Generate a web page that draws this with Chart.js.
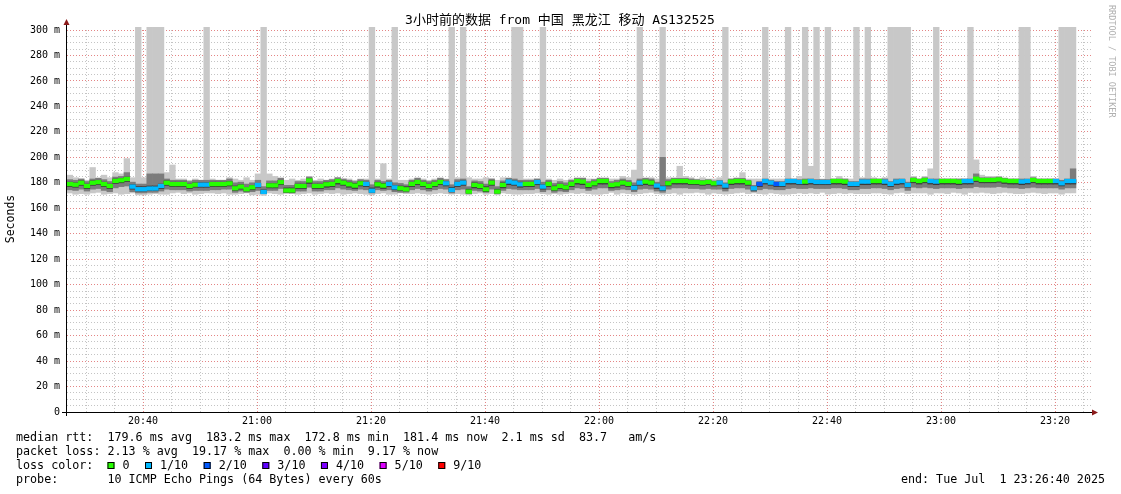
<!DOCTYPE html>
<html>
<head>
<meta charset="utf-8">
<script src="https://cdn.jsdelivr.net/npm/chart.js@4/dist/chart.umd.min.js"></script>
<style>
  html, body { margin: 0; padding: 0; background: #fff; }
  canvas { display: block; }
</style>
</head>
<body>
<canvas id="smoke" width="1121" height="494"></canvas>
<script>
// one sample per minute, first sample starts 20:26:40 (minutes since 20:00)
const startMinute = 26 + 40 / 60;
const spanMinutes = 180;

// median rtt (ms)
const median = [
  179,178.5,180,177.5,180,180.5,179,177.5,181.5,182,
  183,177,175,175,175.5,175.5,177.5,180,179,179,
  179,177.5,178.5,178.5,178.5,179,179,179,179.5,175.7,
  177,175,176.5,178.3,172.8,178,178,180.5,174,174,
  177.5,177.5,181.8,177.5,177.5,178.8,179.1,181.4,180.1,178.8,
  177.8,179.6,179.1,173.8,178.8,177.8,179.1,176.4,175.7,174.9,
  179.1,180.6,179.1,177.5,179.1,180.6,179.6,174.4,179.1,180.1,
  173.1,178.3,177.5,174.9,180.1,173.1,178.3,180.9,180.1,178.8,
  179.1,179.1,180.6,177,179.1,175.7,177.5,176.4,179.1,181.4,
  180.9,178.3,179.6,181.4,181.4,178.3,178.8,180.1,179.1,176.1,
  180.1,180.9,180.1,177.8,175.7,179.6,181.4,181.4,181.4,180.6,
  180.6,180.1,180.6,179.6,180.1,177.8,180.9,181.4,181.4,180.1,
  175.7,179.1,181.4,180.1,179.1,179.1,181.4,181.4,180.6,180.9,
  181.4,180.6,180.6,180.6,181.4,181.4,180.9,179.1,179.1,180.9,
  180.9,181.4,181.4,180.9,179.1,180.9,181.4,178.3,182.2,181.4,
  182.2,181.4,180.9,181.4,181.4,181.4,180.9,181.4,181.4,183.2,
  182.2,182.2,182.2,182.6,181.8,181.4,181.4,180.9,181.4,182.2,
  181.4,181.4,181.4,181.4,179.6,181.4,181.4
];

// lost pings out of 10 per minute
const lost = [
  0,0,0,0,0,0,0,0,0,0,
  0,1,1,1,1,1,1,0,0,0,
  0,0,0,1,1,0,0,0,0,0,
  0,0,0,1,1,0,0,0,0,0,
  0,0,0,0,0,0,0,0,0,0,
  0,0,1,1,0,0,1,1,0,0,
  0,0,0,0,0,0,1,1,1,1,
  0,0,0,0,0,0,0,1,1,1,
  0,0,1,1,0,0,0,0,0,0,
  0,0,0,0,0,0,0,0,0,1,
  1,0,0,1,1,0,0,0,0,0,
  0,0,0,0,1,1,0,0,0,0,
  1,2,1,1,2,1,1,1,1,0,
  1,1,1,1,0,0,0,1,1,1,
  1,0,0,1,1,1,1,1,0,0,
  0,1,1,0,0,0,0,1,1,0,
  0,0,0,0,0,0,0,1,1,0,
  0,0,0,1,1,1,1
];

// smoke: fastest / slowest ping
const pingMin = [
  172,171,171.5,171,172,172.5,171,171.5,172,171,
  171.5,172,170.5,170.5,171,171.5,171,171,172,172.5,
  171.5,172,171,171.5,172,172,171.5,172,171,171,
  171.5,172,170.5,171,170,172,171.5,171,172,171.5,
  171,171.5,172,171,171.5,172,171.5,172,171,171.5,
  172,171.5,171,170.5,171.5,172,171,171,172,171.5,
  171.5,172,171.5,171,171.5,172,171.5,171,171.5,171,
  170.5,171.5,172,171,171.5,170.5,172,171.5,171,171,
  171.5,171.5,172,171.5,171,171.5,171,171.5,172,171.5,
  172,171.5,171,171,171.5,172.5,171,172,171.5,171,
  171.5,172,172.5,171.5,171,171.5,172,171,172,172,
  172.5,172,171,172,171.5,171,171.5,172,172.5,171.5,
  172,171.5,171,172,171.5,171,171,171.5,172,171.5,
  172,171.5,172.5,171,171.5,172,171.5,172,171.5,171.5,
  171.5,172,172,171.5,171,172,172.5,171.5,172,172,
  172,171,172,172,171.5,172.5,172,171,172.5,172,
  172.5,172,171.5,172,172.5,172,171.5,171.5,172,172.5,
  172,171.5,172,172,171,172,172
];
const pingMax = [
  186,184,183,182,192,184,186,184,188,187,
  199,184,302,184,302,302,302,188,194,183,
  183,182,183,182,302,183,182,182,184,183,
  182,184,182,187,302,187,185,184,182,183,
  182,183,185,182,183,182,183,184,183,183,
  182,183,183,302,183,195,183,302,182,182,
  183,184,183,182,183,184,183,302,184,302,
  184,183,183,184,183,182,184,184,302,302,
  183,183,183,302,183,182,183,182,183,184,
  184,183,183,184,184,183,183,185,184,190,
  302,184,184,183,302,184,184,193,185,184,
  183,184,183,183,184,302,183,184,188,183,
  183,183,302,183,183,183,302,183,185,302,
  193,302,183,302,183,185,183,183,302,184,
  302,184,183,184,302,302,302,302,185,183,
  185,191,302,183,183,183,183,183,302,198,
  186,185,185,185,184,183,183,302,302,185,
  183,183,183,183,302,302,302
];
// smoke: middle pings
const midLow = [
  174.5,174,175,173.5,175,175.5,174,173,176,177,
  177.5,173,172,172,172.5,172.5,173.5,175,174.5,174.5,
  174.5,173.5,174,174,174,174.5,174.5,175,175,172.5,
  173.5,172.5,173,174,171.5,174,174,175.5,172,172,
  173.5,173.5,176.5,173.5,173.5,174.5,174.5,176,175,174.5,
  174,175,174.5,172,174.5,174,174.5,173,172.5,172.5,
  174.5,175.5,174.5,173.5,174.5,175.5,175,172,174.5,175,
  171.5,174,173.5,172.5,175,171.5,174,175.5,175,174.5,
  174.5,174.5,175.5,173,174.5,172.5,173.5,173,174.5,176,
  175.5,174,175,176,176,174,174.5,175,174.5,173,
  175,175.5,175,173.5,172.5,175,176,176,176,175.5,
  175.5,175,175.5,175,175,173.5,175.5,176,176,175,
  173,174.5,175.5,175,174.5,174.5,175.5,176,175.5,175.5,
  176,175.5,175.5,175.5,176,176,175.5,174.5,174.5,175.5,
  175.5,176,176,175.5,174.5,175.5,176,174,176.5,176,
  176.5,176,175.5,176,176,176,175.5,176,176,177,
  176.5,176.5,176.5,177,176.5,176,176,175.5,176,176.5,
  176,176,176,176,175,176,176
];
const midHigh = [
  182.5,182,183,181,183,183.5,182.5,181,184.5,185,
  188,180.5,179,179,187,187,187,183,182,182,
  182,181,182,182,182,182,182,182,183,180,
  180.5,179,180,182,177,181.5,181.5,183.5,178,178,
  181,181,184.5,181,181,182,182.5,184,183,182,
  181,182.5,182,178.5,182,181,182,180,179.5,178.5,
  182,183.5,182,181,182,183.5,182.5,178.5,182.5,183,
  177,181.5,181,179,183,177,181.5,183.5,183,182,
  182,182,183,180.5,182,179.5,181,180,182,183.5,
  183.5,181,182.5,183.5,183.5,181,182,183,182,180,
  183,183.5,183,180.5,200,182.5,183.5,183.5,183.5,183,
  182.5,182,182.5,181.5,182,180,183,183.5,183.5,182,
  178,181,183,182,181,181,183,183,182.5,183,
  183,182.5,182.5,182.5,183,183,183,181,181,183,
  183,183,183,183,181,183,183,180.5,184,183,
  184,183,183,183,183,183,183,183,183,187,
  184,184,184,184.5,183.5,183,183,183,183,184,
  183,183,183,183,182,183,191
];
// smoke: pings closest to the median
const coreLow = [
  177,176.5,178,175.5,178,178.5,177,175.5,179.5,180,
  181,175,173.5,173.5,174,174,175.5,178,177,177,
  177,175.5,176.5,176.5,176.5,177,177,177,177.5,174,
  175,173.5,174.5,176.5,171.8,176,176,178.5,172.5,172.5,
  175.5,175.5,179.5,175.5,175.5,176.5,177,179,178,176.5,
  175.5,177.5,177,172.5,176.5,175.5,177,174.5,174,173.5,
  177,178.5,177,175.5,177,178.5,177.5,173,177,178,
  172,176,175.5,173,178,172,176,178.5,178,176.5,
  177,177,178.5,175,177,174,175.5,174.5,177,179,
  178.5,176,177.5,179,179,176,176.5,178,177,174.5,
  178,178.5,178,175.5,174,177.5,179,179,179,178.5,
  178.5,178,178.5,177.5,178,175.5,178.5,179,179,178,
  174,177,179,178,177,177,179,179,178.5,178.5,
  179,178.5,178.5,178.5,179,179,178.5,177,177,178.5,
  178.5,179,179,178.5,177,178.5,179,176.5,180,179,
  180,179,178.5,179,179,179,178.5,179,179,181,
  180,180,180,180.5,179.5,179,179,178.5,179,180,
  179,179,179,179,177.5,179,179
];
const coreHigh = [
  180.5,180,181.5,179,181.5,182,180.5,179,183,183.5,
  184.5,178.5,177,177,177.5,177.5,179,181.5,180.5,180.5,
  180.5,179,180,180,180,180.5,180.5,180.5,181,177.5,
  178.5,176.5,178,179.5,174.5,179.5,179.5,182,176,176,
  179,179,183,179,179,180.5,180.5,182.5,181.5,180.5,
  179.5,181,180.5,176,180.5,179.5,180.5,178,177.5,177,
  180.5,182,180.5,179,180.5,182,181,176.5,180.5,181.5,
  175,180,179,177,181.5,175,180,182,181.5,180.5,
  180.5,180.5,182,178.5,180.5,177.5,179,178,180.5,182.5,
  182,179.5,181,182.5,182.5,179.5,180,181.5,180.5,178,
  181.5,182,181.5,179,177.5,181,182.5,182.5,182.5,181.5,
  181.5,181,181.5,180.5,181,179,182,182.5,182.5,181,
  177,180,182.3,181,180,180,182.3,182.3,181.5,181.8,
  182.3,181.5,181.5,181.5,182.3,182.3,181.8,180,180,181.8,
  181.8,182.3,182.3,181.8,180,181.8,182.3,179.3,183,182.3,
  183,182.3,181.8,182.3,182.3,182.3,181.8,182.3,182.3,184,
  183,183,183,183.4,182.6,182.3,182.3,181.8,182.3,183,
  182.3,182.3,182.3,182.3,180.5,182.3,182.3
];

const lossLabels = ['0', '1/10', '2/10', '3/10', '4/10', '5/10', '9/10'];
const lossColors = ['#26ff00', '#00b8ff', '#0059ff', '#5e00ff', '#7e00ff', '#dd00ff', '#ff0000'];

const xTickLabels = ['20:40', '21:00', '21:20', '21:40', '22:00', '22:20', '22:40', '23:00', '23:20'];
const xTickMinutes = [40, 60, 80, 100, 120, 140, 160, 180, 200];

const titleText = '3小时前的数据 from 中国 黑龙江 移动 AS132525';
const legendLines = [
  'median rtt:  179.6 ms avg  183.2 ms max  172.8 ms min  181.4 ms now  2.1 ms sd  83.7   am/s',
  'packet loss: 2.13 % avg  19.17 % max  0.00 % min  9.17 % now',
  'loss color:  ',
  'probe:       10 ICMP Echo Pings (64 Bytes) every 60s'
];
const endText = 'end: Tue Jul  1 23:26:40 2025';

const mono = '"DejaVu Sans Mono", "Noto Sans CJK SC", monospace';
const majorGrid = '#e48585';
const minorGrid = '#c4c4c4';

const at = (i) => startMinute + i + 0.5;
const band = (lo, hi) => lo.map((v, i) => ({ x: at(i), y: [v, hi[i]] }));

const barBase = {
  grouped: false,
  categoryPercentage: 1,
  barPercentage: 1,
  borderWidth: 0
};

const decor = {
  id: 'decor',
  beforeDraw(chart) {
    const c = chart.ctx;
    c.save();
    c.fillStyle = '#fff';
    c.fillRect(0, 0, chart.width, chart.height);
    c.restore();
  },
  afterDraw(chart) {
    const c = chart.ctx;
    const a = chart.chartArea;
    c.save();

    // axes with arrows
    c.strokeStyle = '#000';
    c.lineWidth = 1;
    c.beginPath();
    c.moveTo(a.left - 5, a.bottom + 0.5);
    c.lineTo(a.right + 1, a.bottom + 0.5);
    c.moveTo(a.left - 0.5, a.bottom + 4);
    c.lineTo(a.left - 0.5, a.top - 6);
    c.stroke();
    c.fillStyle = '#8b1a1a';
    c.beginPath();
    c.moveTo(a.left - 0.5, a.top - 11);
    c.lineTo(a.left - 3.5, a.top - 5);
    c.lineTo(a.left + 2.5, a.top - 5);
    c.closePath();
    c.fill();
    c.beginPath();
    c.moveTo(a.right + 5, a.bottom + 0.5);
    c.lineTo(a.right - 1, a.bottom - 2.5);
    c.lineTo(a.right - 1, a.bottom + 3.5);
    c.closePath();
    c.fill();

    // title
    c.fillStyle = '#000';
    c.font = '13px ' + mono;
    c.textAlign = 'center';
    c.textBaseline = 'middle';
    c.fillText(titleText, 560, 21);

    // y axis title
    c.save();
    c.translate(11, 219);
    c.rotate(-Math.PI / 2);
    c.font = '11.5px ' + mono;
    c.fillText('Seconds', 0, 0);
    c.restore();

    // rrdtool watermark
    c.save();
    c.translate(1111, 5);
    c.rotate(Math.PI / 2);
    c.textAlign = 'left';
    c.fillStyle = '#b0b0b0';
    c.font = '8.5px ' + mono;
    c.fillText('RRDTOOL / TOBI OETIKER', 0, 0);
    c.restore();

    // legend block
    c.font = '11.7px ' + mono;
    c.textAlign = 'left';
    c.fillStyle = '#000';
    const rowY = [438, 452, 466, 480];
    legendLines.forEach((t, i) => c.fillText(t, 16, rowY[i]));
    let x = 16 + c.measureText(legendLines[2]).width;
    lossLabels.forEach((lab, i) => {
      c.fillStyle = lossColors[i];
      c.fillRect(x, rowY[2] - 4, 7, 7);
      c.strokeStyle = '#000';
      c.strokeRect(x + 0.5, rowY[2] - 3.5, 6, 6);
      c.fillStyle = '#000';
      c.fillText(lab, x + 15, rowY[2]);
      x += 15 + c.measureText(lab).width + 15.5;
    });
    c.textAlign = 'right';
    c.fillText(endText, 1105, rowY[3]);

    c.restore();
  }
};

new Chart(document.getElementById('smoke').getContext('2d'), {
  type: 'bar',
  data: {
    datasets: [
      Object.assign({}, barBase, {
        label: 'median',
        data: median.map((v, i) => ({ x: at(i), y: [v - 1.4, v + 1.4] })),
        backgroundColor: lost.map(n => lossColors[n])
      }),
      Object.assign({}, barBase, {
        label: 'core',
        data: band(coreLow, coreHigh),
        backgroundColor: '#3a3a3a'
      }),
      Object.assign({}, barBase, {
        label: 'mid',
        data: band(midLow, midHigh),
        backgroundColor: '#7c7c7c'
      }),
      Object.assign({}, barBase, {
        label: 'range',
        data: band(pingMin, pingMax),
        backgroundColor: '#c8c8c8',
        clip: { left: 0, top: 4, right: 0, bottom: 0 }
      })
    ]
  },
  options: {
    responsive: false,
    animation: false,
    devicePixelRatio: 1,
    layout: { padding: { left: 0, right: 28, top: 30, bottom: 62 } },
    plugins: {
      legend: { display: false },
      tooltip: { enabled: false },
      title: { display: false }
    },
    scales: {
      x: {
        type: 'linear',
        min: startMinute,
        max: startMinute + spanMinutes,
        offset: false,
        afterBuildTicks(axis) {
          const ticks = [];
          for (let v = 30; v < startMinute + spanMinutes; v += 5) ticks.push({ value: v });
          axis.ticks = ticks;
        },
        afterFit(axis) { axis.height = 20; },
        ticks: {
          autoSkip: false,
          maxRotation: 0,
          padding: 3,
          color: '#000',
          font: { family: mono, size: 10 },
          callback: (v) => {
            const k = xTickMinutes.indexOf(v);
            return k >= 0 ? xTickLabels[k] : '';
          }
        },
        grid: {
          offset: false,
          drawTicks: false,
          lineWidth: 1,
          color: (ctx) => ctx.tick && ctx.tick.value % 20 === 0 ? majorGrid : minorGrid
        },
        border: { display: false, dash: [1, 2] }
      },
      y: {
        min: 0,
        max: 300,
        afterFit(axis) { axis.width = 67; },
        ticks: {
          stepSize: 5,
          autoSkip: false,
          padding: 7,
          color: '#000',
          font: { family: mono, size: 10 },
          callback: (v) => v % 20 === 0 ? (v === 0 ? '0' : v + ' m') : ''
        },
        grid: {
          drawTicks: false,
          lineWidth: 1,
          color: (ctx) => ctx.tick && ctx.tick.value % 20 === 0 ? majorGrid : minorGrid
        },
        border: { display: false, dash: [1, 2] }
      }
    }
  },
  plugins: [decor]
});
</script>
</body>
</html>
